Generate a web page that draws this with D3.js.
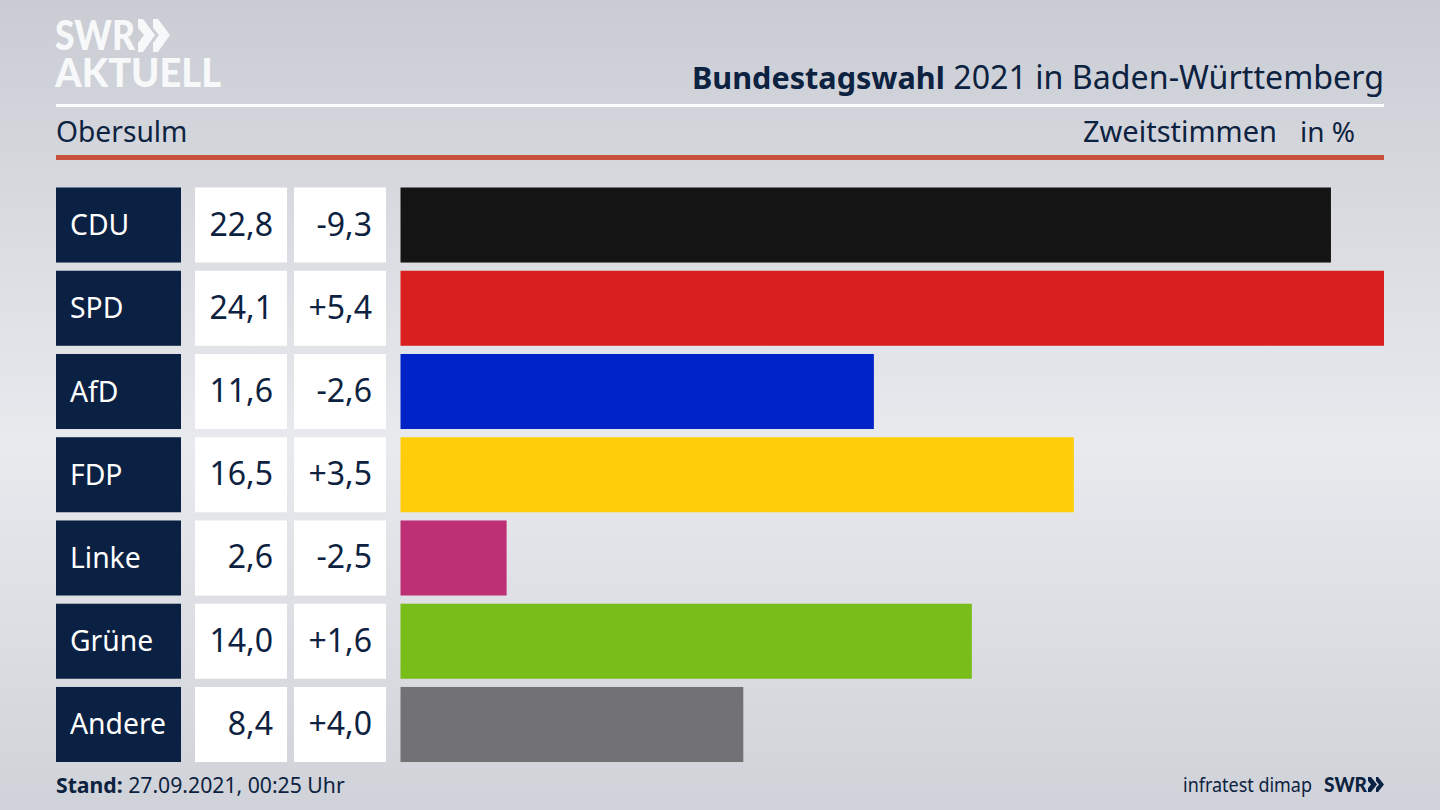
<!DOCTYPE html>
<html>
<head>
<meta charset="utf-8">
<script src="https://cdn.jsdelivr.net/npm/d3@7"></script>
<style>
html, body { margin: 0; padding: 0; overflow: hidden; }
text { font-family: "Noto Sans", sans-serif; fill: #0d2240; }
</style>
</head>
<body>
<script>
const parties = ["CDU", "SPD", "AfD", "FDP", "Linke", "Grüne", "Andere"];
const shares = [22.8, 24.1, 11.6, 16.5, 2.6, 14.0, 8.4];
const changes = ["-9,3", "+5,4", "-2,6", "+3,5", "-2,5", "+1,6", "+4,0"];
const colors = ["#141414", "#da201f", "#0023c8", "#ffcd0a", "#bd3075", "#79bd1a", "#727274"];

const navy = "#0b2143";
const width = 1440, height = 810;

let svg = d3.select("body").append("svg")
    .attr("width", width)
    .attr("height", height);

// background is lighter in the middle
let grad = svg.append("defs").append("linearGradient")
    .attr("id", "bg")
    .attr("x1", 0).attr("x2", 0).attr("y1", 0).attr("y2", 1);
grad.append("stop").attr("offset", "0%").attr("stop-color", "#c9ccd3");
grad.append("stop").attr("offset", "55%").attr("stop-color", "#e9eaee");
grad.append("stop").attr("offset", "100%").attr("stop-color", "#cfd2d8");
svg.append("rect")
    .attr("width", width)
    .attr("height", height)
    .attr("fill", "url(#bg)");

// logo
svg.append("text")
    .attr("x", 55).attr("y", 50)
    .style("fill", "#f7f8f9")
    .style("font-family", "Lato")
    .style("font-weight", 900)
    .style("font-size", "41px")
    .attr("textLength", 80)
    .attr("lengthAdjust", "spacingAndGlyphs")
    .text("SWR");
svg.append("text")
    .attr("x", 55).attr("y", 87)
    .style("fill", "#f7f8f9")
    .style("font-family", "Lato")
    .style("font-weight", 900)
    .style("font-size", "40px")
    .attr("textLength", 166)
    .attr("lengthAdjust", "spacingAndGlyphs")
    .text("AKTUELL");
svg.append("path")
    .attr("d", "M138,19h5l12,16l-12,17h-5v-9l6,-8l-6,-7z M153,19h5l12,16l-12,17h-5v-9l6,-8l-6,-7z")
    .attr("fill", "#f7f8f9");

// header
svg.append("text")
    .attr("x", 1384).attr("y", 89)
    .attr("text-anchor", "end")
    .style("font-size", "32.2px")
    .html('<tspan style="font-weight:700;font-size:30.6px">Bundestagswahl</tspan> 2021 in Baden-Württemberg');
svg.append("rect")
    .attr("x", 56).attr("y", 104)
    .attr("width", 1328).attr("height", 3)
    .attr("fill", "#fbfcfc");
svg.append("text")
    .attr("x", 56).attr("y", 142)
    .style("font-size", "28.2px")
    .text("Obersulm");
svg.append("text")
    .attr("x", 1277).attr("y", 142)
    .attr("text-anchor", "end")
    .style("font-size", "29px")
    .text("Zweitstimmen");
svg.append("text")
    .attr("x", 1355).attr("y", 142)
    .attr("text-anchor", "end")
    .style("font-size", "28px")
    .text("in %");
svg.append("rect")
    .attr("x", 56).attr("y", 155)
    .attr("width", 1328).attr("height", 5)
    .attr("fill", "#c9503d");

let y = d3.scaleBand()
    .domain(parties)
    .range([187.5, 762])
    .paddingInner(0.0986);
let x = d3.scaleLinear()
    .domain([0, d3.max(shares)])
    .range([400.5, 1384]);

let rows = svg.selectAll("g.row")
    .data(parties)
    .join("g")
    .classed("row", true)
    .attr("transform", d => `translate(0,${y(d)})`);

rows.append("rect")
    .attr("x", 56)
    .attr("width", 125)
    .attr("height", y.bandwidth())
    .attr("fill", navy);
rows.append("rect")
    .attr("x", 195)
    .attr("width", 92)
    .attr("height", y.bandwidth())
    .attr("fill", "#ffffff");
rows.append("rect")
    .attr("x", 294)
    .attr("width", 92)
    .attr("height", y.bandwidth())
    .attr("fill", "#ffffff");
rows.append("rect")
    .attr("x", x(0))
    .attr("width", (d, i) => x(shares[i]) - x(0))
    .attr("height", y.bandwidth())
    .attr("fill", (d, i) => colors[i]);

let labelY = y.bandwidth() / 2 + 10;
rows.append("text")
    .attr("x", 70)
    .attr("y", labelY)
    .style("fill", "#ffffff")
    .style("font-size", "28.3px")
    .text(d => d);
rows.append("text")
    .attr("x", 273)
    .attr("y", labelY + 0.5)
    .attr("text-anchor", "end")
    .style("font-size", "32px")
    .text((d, i) => shares[i].toFixed(1).replace(".", ","));
rows.append("text")
    .attr("x", 372)
    .attr("y", labelY + 0.5)
    .attr("text-anchor", "end")
    .style("font-size", "32px")
    .text((d, i) => changes[i]);

// footer
svg.append("text")
    .attr("x", 56).attr("y", 793)
    .style("font-size", "21.2px")
    .html('<tspan style="font-weight:700">Stand:</tspan> 27.09.2021, 00:25 Uhr');
svg.append("text")
    .attr("x", 1183).attr("y", 792)
    .style("font-size", "20px")
    .attr("textLength", 129)
    .attr("lengthAdjust", "spacingAndGlyphs")
    .text("infratest dimap");
svg.append("text")
    .attr("x", 1324).attr("y", 792)
    .style("font-family", "Lato")
    .style("font-weight", 900)
    .style("font-size", "21px")
    .attr("textLength", 43)
    .attr("lengthAdjust", "spacingAndGlyphs")
    .text("SWR");
svg.append("path")
    .attr("d", "M1368,777h3l6,7.5l-6,7.5h-3v-4l3,-3.5l-3,-3.5z M1376,777h2l6,7.5l-6,7.5h-2v-4l3,-3.5l-3,-3.5z")
    .attr("fill", navy);
</script>
</body>
</html>
